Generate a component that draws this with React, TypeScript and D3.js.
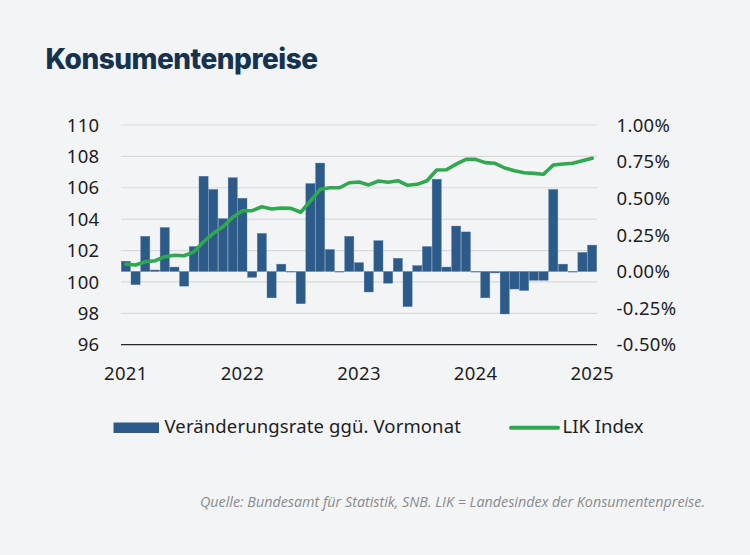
import * as d3 from "d3";
import React, { useEffect } from "react";

// month-on-month change (%), Jan 2021 .. Jan 2025
const MOM_CHANGE = [
  0.07, -0.09, 0.24, 0.01, 0.3, 0.03, -0.1, 0.17, 0.65, 0.56, 0.36, 0.64,
  0.5, -0.04, 0.26, -0.18, 0.05, 0.0, -0.22, 0.6, 0.74, 0.15, 0.0, 0.24,
  0.06, -0.14, 0.21, -0.08, 0.09, -0.24, 0.04, 0.17, 0.63, 0.03, 0.31, 0.27,
  0.0, -0.18, -0.01, -0.29, -0.12, -0.13, -0.06, -0.06, 0.56, 0.05, 0.0, 0.13,
  0.18,
];

// LIK index level
const LIK_INDEX = [
  101.14, 101.08, 101.29, 101.35, 101.61, 101.7, 101.67, 101.92, 102.56, 103.1, 103.52, 104.12,
  104.54, 104.54, 104.79, 104.65, 104.71, 104.69, 104.44, 105.16, 105.9, 106.0, 106.0, 106.32,
  106.37, 106.18, 106.43, 106.35, 106.45, 106.16, 106.22, 106.45, 107.13, 107.15, 107.51, 107.81,
  107.81, 107.6, 107.56, 107.26, 107.09, 106.96, 106.92, 106.86, 107.45, 107.51, 107.56, 107.72,
  107.88,
];

const MONTHS = MOM_CHANGE.map(
  (_, i) => `${2021 + Math.floor(i / 12)}-${String((i % 12) + 1).padStart(2, "0")}`
);
const YEAR_TICKS = ["2021", "2022", "2023", "2024", "2025"];
const LEFT_TICKS = [96, 98, 100, 102, 104, 106, 108, 110];
const RIGHT_TICKS = [-0.5, -0.25, 0, 0.25, 0.5, 0.75, 1.0];

const TITLE = "Konsumentenpreise";
const LEGEND_BAR = "Veränderungsrate ggü. Vormonat";
const LEGEND_LINE = "LIK Index";
const SOURCE =
  "Quelle: Bundesamt für Statistik, SNB. LIK = Landesindex der Konsumentenpreise.";

const BLUE = "#2c5b89";
const GREEN = "#2fa84f";
const AXIS_FONT = "'Noto Sans', sans-serif";
const pct = (t: number) => d3.format(".2f")(t).replace("−", "-") + "%";

export default function App() {
  useEffect(() => {
    document.body.style.margin = "0";
  }, []);

  const width = 750;
  const height = 555;
  const plot = { left: 121, right: 597, top: 125, bottom: 344.7 };

  const x = d3
    .scaleBand<string>()
    .domain(MONTHS)
    .range([plot.left, plot.right])
    .paddingInner(0.06)
    .paddingOuter(0.03);
  const yLeft = d3.scaleLinear().domain([96, 110]).range([plot.bottom, plot.top]);
  const yRight = d3.scaleLinear().domain([-0.5, 1.0]).range([plot.bottom, plot.top]);

  const line = d3
    .line<number>()
    .x((_, i) => (x(MONTHS[i]) as number) + x.bandwidth() / 2)
    .y((d) => yLeft(d));

  const axisText = {
    fontFamily: AXIS_FONT,
    fontSize: 18.5,
    letterSpacing: 0.3,
    fill: "#1e1e1e",
  };

  return (
    <svg width={width} height={height} style={{ display: "block", background: "#f3f4f6" }}>
      <rect width={width} height={height} fill="#f3f4f6" />
      <text
        x={45.5}
        y={69}
        fontFamily="Inter, sans-serif"
        fontWeight={800}
        fontSize={28}
        letterSpacing={-0.5}
        fill="#15324f"
      >
        {TITLE}
      </text>

      {/* gridlines + left axis */}
      {LEFT_TICKS.map((t) => (
        <g key={t}>
          {t !== 96 && (
            <line
              x1={plot.left}
              x2={plot.right}
              y1={yLeft(t)}
              y2={yLeft(t)}
              stroke="#d9d9d9"
              strokeWidth={1.2}
            />
          )}
          <text x={99.5} y={yLeft(t)} dy="0.36em" textAnchor="end" {...axisText}>
            {t}
          </text>
        </g>
      ))}

      {RIGHT_TICKS.map((t) => (
        <text key={t} x={616.5} y={yRight(t)} dy="0.36em" {...axisText}>
          {pct(t)}
        </text>
      ))}

      {/* bars */}
      {MOM_CHANGE.map((v, i) => (
        <rect
          key={MONTHS[i]}
          x={x(MONTHS[i])}
          width={x.bandwidth()}
          y={Math.min(yRight(v), yRight(0))}
          height={Math.max(Math.abs(yRight(v) - yRight(0)), 0.6)}
          fill={BLUE}
          stroke="#4c79a5"
          strokeWidth={0.4}
        />
      ))}

      {/* bottom axis */}
      <line
        x1={plot.left}
        x2={plot.right}
        y1={plot.bottom}
        y2={plot.bottom}
        stroke="#262626"
        strokeWidth={1.3}
      />
      {YEAR_TICKS.map((yr) => {
        const m = `${yr}-01`;
        return (
          <text
            key={yr}
            x={(x(m) as number) + x.bandwidth() / 2}
            y={379.5}
            textAnchor="middle"
            {...axisText}
          >
            {yr}
          </text>
        );
      })}

      {/* LIK line */}
      <path
        d={line(LIK_INDEX) ?? ""}
        fill="none"
        stroke={GREEN}
        strokeWidth={3.6}
        strokeLinejoin="round"
        strokeLinecap="round"
      />

      {/* legend */}
      <rect x={113.5} y={422.5} width={45.5} height={10.5} fill={BLUE} />
      <text x={164.5} y={432.8} {...axisText} letterSpacing={0.12}>
        {LEGEND_BAR}
      </text>
      <line x1={511} x2={558} y1={427.8} y2={427.8} stroke={GREEN} strokeWidth={4} strokeLinecap="round" />
      <text x={562.5} y={432.8} {...axisText} letterSpacing={0}>
        {LEGEND_LINE}
      </text>

      <text
        x={200}
        y={506.5}
        fontFamily="'Open Sans', sans-serif"
        fontStyle="italic"
        fontSize={14.3}
        fill="#8a8a8a"
        textLength={505}
        lengthAdjust="spacingAndGlyphs"
      >
        {SOURCE}
      </text>
    </svg>
  );
}
